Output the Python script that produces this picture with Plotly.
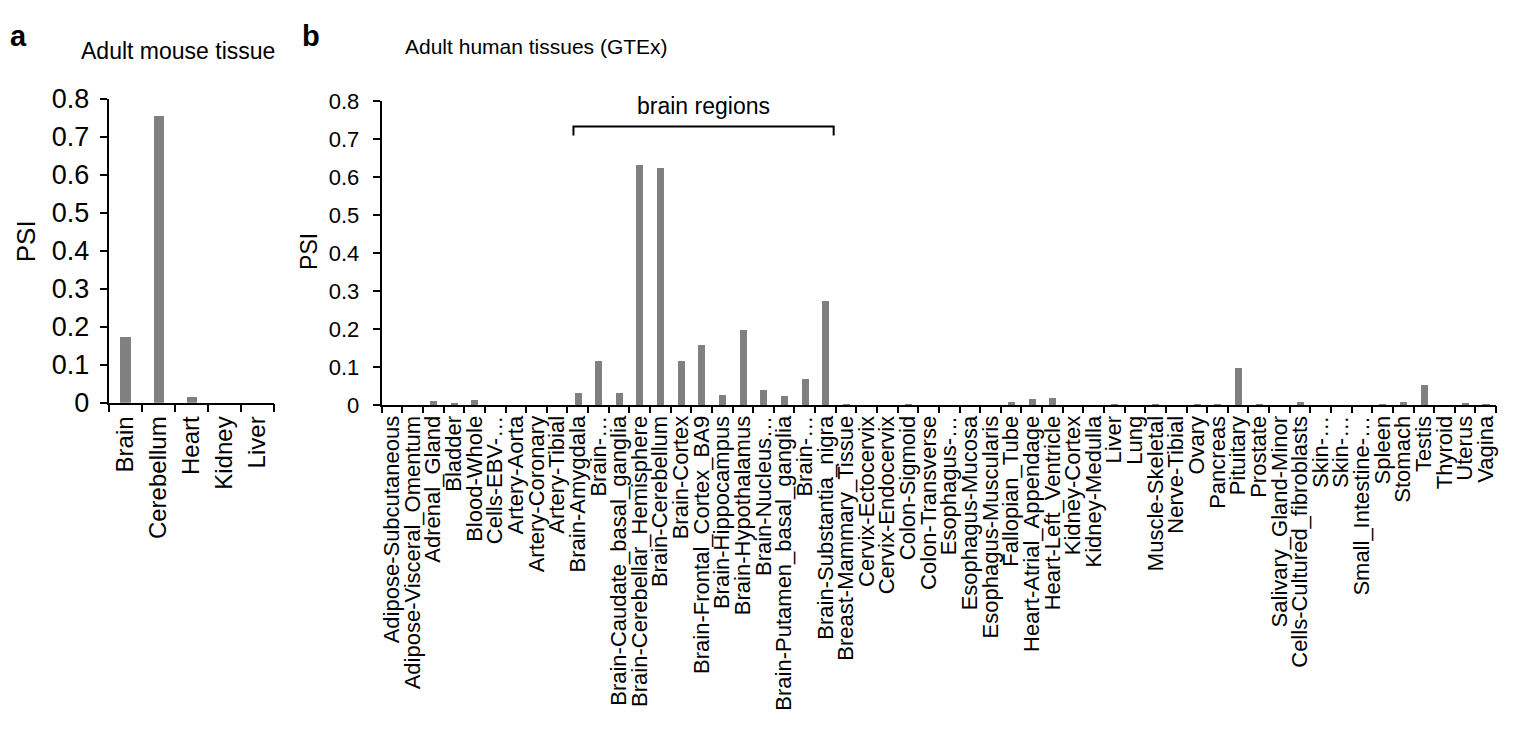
import plotly.graph_objects as go

# ---------------- data ----------------
mouse_tissues = ["Brain", "Cerebellum", "Heart", "Kidney", "Liver"]
mouse_psi = [0.175, 0.754, 0.015, 0.0, 0.0]

human_tissues = [
    "Adipose-Subcutaneous", "Adipose-Visceral_Omentum", "Adrenal_Gland", "Bladder",
    "Blood-Whole", "Cells-EBV-…", "Artery-Aorta", "Artery-Coronary", "Artery-Tibial",
    "Brain-Amygdala", "Brain-…", "Brain-Caudate_basal_ganglia",
    "Brain-Cerebellar_Hemisphere", "Brain-Cerebellum", "Brain-Cortex",
    "Brain-Frontal_Cortex_BA9", "Brain-Hippocampus", "Brain-Hypothalamus",
    "Brain-Nucleus…", "Brain-Putamen_basal_ganglia", "Brain-…",
    "Brain-Substantia_nigra", "Breast-Mammary_Tissue", "Cervix-Ectocervix",
    "Cervix-Endocervix", "Colon-Sigmoid", "Colon-Transverse", "Esophagus-…",
    "Esophagus-Mucosa", "Esophagus-Muscularis", "Fallopian_Tube",
    "Heart-Atrial_Appendage", "Heart-Left_Ventricle", "Kidney-Cortex",
    "Kidney-Medulla", "Liver", "Lung", "Muscle-Skeletal", "Nerve-Tibial", "Ovary",
    "Pancreas", "Pituitary", "Prostate", "Salivary_Gland-Minor",
    "Cells-Cultured_fibroblasts", "Skin-…", "Skin-…", "Small_Intestine-…",
    "Spleen", "Stomach", "Testis", "Thyroid", "Uterus", "Vagina",
]
human_psi = [
    0.0, 0.0, 0.011, 0.003, 0.013, 0.0, 0.0, 0.0, 0.0,
    0.031, 0.114, 0.030, 0.632, 0.624, 0.116, 0.158, 0.027, 0.196,
    0.040, 0.023, 0.067, 0.273, 0.002, 0.0, 0.0, 0.002, 0.0, 0.0,
    0.0, 0.0, 0.006, 0.014, 0.019, 0.0, 0.0, 0.002, 0.0, 0.002, 0.0, 0.001,
    0.001, 0.098, 0.001, 0.0, 0.006, 0.0, 0.0, 0.0, 0.001, 0.007, 0.053,
    0.0, 0.005, 0.001,
]
y_ticks = [0, 0.1, 0.2, 0.3, 0.4, 0.5, 0.6, 0.7, 0.8]
y_ticktext = ["0", "0.1", "0.2", "0.3", "0.4", "0.5", "0.6", "0.7", "0.8"]

mouse_pos = list(range(1, len(mouse_tissues) + 1))
human_pos = list(range(1, len(human_tissues) + 1))
mouse_bounds = [p - 0.5 for p in mouse_pos] + [mouse_pos[-1] + 0.5]
human_bounds = [p - 0.5 for p in human_pos] + [human_pos[-1] + 0.5]

FONT = "Liberation Sans, Arial, sans-serif"
BAR = "#808080"
W, H = 1518, 734

fig = go.Figure()
fig.add_trace(go.Bar(x=mouse_pos, y=mouse_psi, width=0.31, marker_color=BAR,
                     marker_line_width=0, xaxis="x", yaxis="y", showlegend=False))
fig.add_trace(go.Bar(x=human_pos, y=human_psi, width=0.34, marker_color=BAR,
                     marker_line_width=0, xaxis="x2", yaxis="y2", showlegend=False))
# empty traces so the boundary-tick overlay axes are drawn
fig.add_trace(go.Scatter(x=[None], y=[None], xaxis="x3", yaxis="y", showlegend=False, hoverinfo="skip"))
fig.add_trace(go.Scatter(x=[None], y=[None], xaxis="x4", yaxis="y2", showlegend=False, hoverinfo="skip"))

xd1 = [106 / W, 272 / W]
yd1 = [1 - 404.3 / H, 1 - 87.3 / H]
xd2 = [380 / W, 1498 / W]
yd2 = [1 - 406.7 / H, 1 - 90 / H]

common_y = dict(range=[0, 0.8], tickmode="array", tickvals=y_ticks, ticktext=y_ticktext,
                ticks="outside", ticklen=7, tickwidth=2, tickcolor="black",
                showline=True, linewidth=2, linecolor="black", showgrid=False,
                zeroline=False, fixedrange=True)

fig.update_layout(
    width=W, height=H, margin=dict(l=0, r=0, t=0, b=0),
    paper_bgcolor="white", plot_bgcolor="white",
    font=dict(family=FONT, color="black"),
    bargap=0,
    xaxis=dict(domain=xd1, anchor="y", range=[0.5, 5.5], tickmode="array",
               tickvals=mouse_pos, ticktext=mouse_tissues, tickangle=-90,
               ticks="", showline=True, linewidth=2, linecolor="black",
               showgrid=False, zeroline=False, ticklabelstandoff=2,
               tickfont=dict(size=24, family=FONT)),
    yaxis=dict(domain=yd1, anchor="x", tickfont=dict(size=27, family=FONT),
               ticklabelstandoff=5, **common_y),
    xaxis2=dict(domain=xd2, anchor="y2", range=[0.5, 54.5], tickmode="array",
                tickvals=human_pos, ticktext=human_tissues, tickangle=-90,
                ticks="", showline=True, linewidth=2, linecolor="black",
                showgrid=False, zeroline=False, ticklabelstandoff=0,
                tickfont=dict(size=22, family=FONT)),
    yaxis2=dict(domain=yd2, anchor="x2", tickfont=dict(size=22, family=FONT),
                ticklabelstandoff=9, **common_y),
    xaxis3=dict(overlaying="x", anchor="y", range=[0.5, 5.5], tickmode="array",
                tickvals=mouse_bounds, ticks="outside", ticklen=8, tickwidth=2,
                tickcolor="black", showticklabels=False, showline=False,
                showgrid=False, zeroline=False),
    xaxis4=dict(overlaying="x2", anchor="y2", range=[0.5, 54.5], tickmode="array",
                tickvals=human_bounds, ticks="outside", ticklen=7, tickwidth=2,
                tickcolor="black", showticklabels=False, showline=False,
                showgrid=False, zeroline=False),
)

ann = [
    dict(text="<b>a</b>", x=16 / W, y=1 - 22 / H, font=dict(size=29)),
    dict(text="Adult mouse tissue", x=176 / W, y=1 - 38 / H, font=dict(size=23)),
    dict(text="<b>b</b>", x=309 / W, y=1 - 22 / H, font=dict(size=29)),
    dict(text="Adult human tissues (GTEx)", x=401 / W, y=1 - 33 / H, xanchor="left",
         font=dict(size=21)),
    dict(text="PSI", x=23 / W, y=1 - 236 / H, textangle=-90, font=dict(size=26)),
    dict(text="PSI", x=307 / W, y=1 - 246 / H, textangle=-90, font=dict(size=23)),
]
for a in ann:
    a.setdefault("xanchor", "center")
    fig.add_annotation(xref="paper", yref="paper", showarrow=False, yanchor="middle",
                       font=dict(family=FONT, color="black", size=a["font"]["size"]),
                       **{k: v for k, v in a.items() if k != "font"})

# "brain regions" bracket spanning the brain tissues
brain_idx = [i + 1 for i, t in enumerate(human_tissues) if t.startswith("Brain-")]
bx0, bx1 = brain_idx[0] - 0.21, brain_idx[-1] + 0.4
fig.add_shape(type="path", xref="x2", yref="y2",
              path=f"M {bx0},0.71 L {bx0},0.734 L {bx1},0.734 L {bx1},0.71",
              line=dict(color="black", width=2))
fig.add_annotation(xref="x2", yref="y2", x=(bx0 + bx1) / 2, y=0.789, text="brain regions",
                   showarrow=False, font=dict(family=FONT, size=23, color="black"))

fig.write_html("out.html")
